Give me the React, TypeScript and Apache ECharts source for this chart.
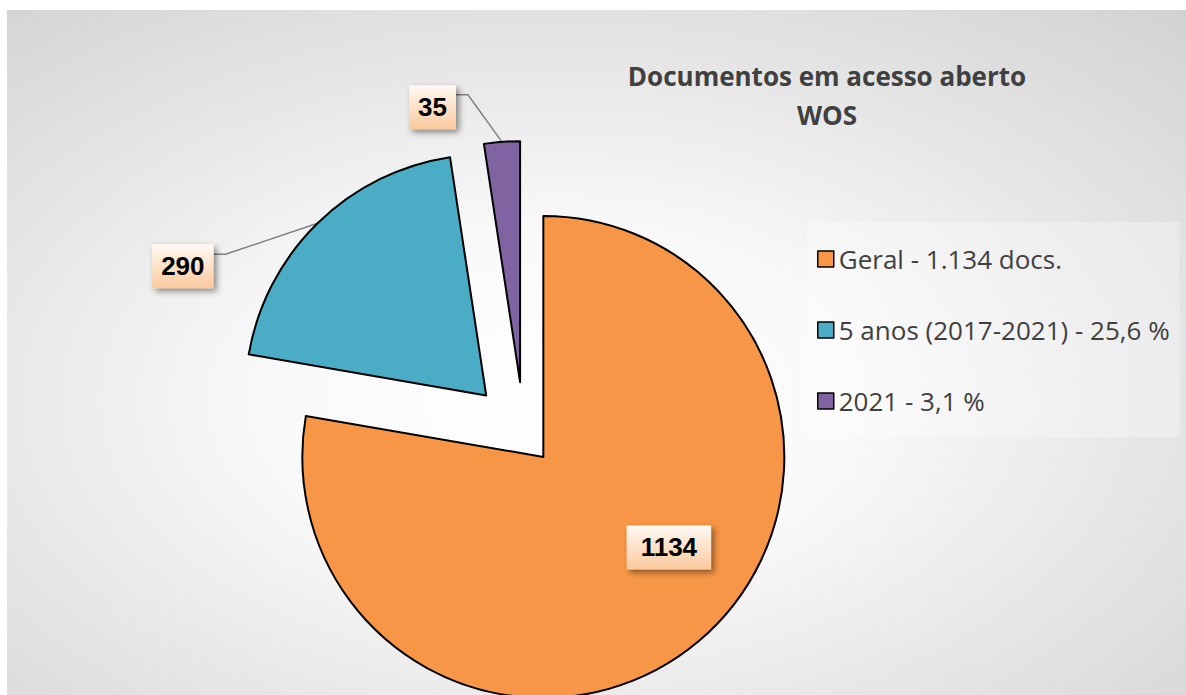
import React, { useEffect, useRef } from 'react';
import * as echarts from 'echarts';

// ---- data ----
const categories = ['Geral - 1.134 docs.', '5 anos (2017-2021) - 25,6 %', '2021 - 3,1 %'];
const values = [1134, 290, 35];
const sliceColors = ['#F79646', '#4BACC6', '#8064A2'];
const explodeOffsets = [30, 54, 52];
const titleLines = ['Documentos em acesso aberto', 'WOS'];

// ---- layout ----
const W = 1186;
const H = 695;
const BASE_CENTER = [524, 434];
const RADIUS = 241;

// label placement relative to the library-computed arc anchor point
const labelGeom: any[] = [
  null,
  { elbow: [-92, 31], end: [-104, 31], boxRight: -104, boxCy: 43 },
  { elbow: [-34, -47], end: [-46, -47], boxRight: -46, boxCy: -34.5 },
];

const labelBg = () =>
  new echarts.graphic.LinearGradient(0, 0, 0, 1, [
    { offset: 0, color: '#fffaf4' },
    { offset: 1, color: '#fbc99d' },
  ]);

function buildOption() {
  const total = values.reduce((a, b) => a + b, 0);
  let acc = 0;
  const series = values.map((v, k) => {
    const start = (acc / total) * 360;
    acc += v;
    const mid = ((start + (v / total) * 180) * Math.PI) / 180;
    const cx = BASE_CENTER[0] + explodeOffsets[k] * Math.sin(mid);
    const cy = BASE_CENTER[1] - explodeOffsets[k] * Math.cos(mid);
    const inside = k === 0;
    const g = labelGeom[k];
    return {
      type: 'pie',
      name: 's' + k,
      center: [cx, cy],
      radius: RADIUS,
      startAngle: 90,
      clockwise: true,
      avoidLabelOverlap: false,
      selectedMode: false,
      emphasis: { disabled: true },
      z: 2,
      data: values.map((val, i) =>
        i === k
          ? {
              value: val,
              name: categories[i],
              itemStyle: { color: sliceColors[i], borderColor: '#000', borderWidth: 2 },
              label: {
                show: true,
                position: inside ? 'inside' : 'outside',
                formatter: '{c}',
                fontFamily: '"Liberation Sans", Arial, sans-serif',
                fontWeight: 'bold',
                fontSize: 26,
                lineHeight: 26,
                color: '#000',
                padding: inside ? [9, 14] : [9, 9],
                backgroundColor: labelBg(),
                shadowColor: 'rgba(0,0,0,0.45)',
                shadowBlur: 6,
                shadowOffsetX: 3,
                shadowOffsetY: 3,
              },
              labelLine: {
                show: !inside,
                length: 20,
                length2: 12,
                lineStyle: { color: '#808080', width: 1.5 },
              },
            }
          : {
              value: val,
              name: categories[i],
              itemStyle: { color: 'rgba(0,0,0,0)', borderWidth: 0 },
              label: { show: false },
              labelLine: { show: false },
            }
      ),
      labelLayout: inside
        ? { dx: 46, dy: -4 }
        : (p: any) => {
            const pts = p.labelLinePoints;
            if (!pts || !pts[0] || !g) return {};
            const p0 = pts[0];
            const r = p.labelRect;
            return {
              dx: p0[0] + g.boxRight - (r.x + r.width),
              dy: p0[1] + g.boxCy - (r.y + r.height / 2),
              labelLinePoints: [
                [p0[0], p0[1]],
                [p0[0] + g.elbow[0], p0[1] + g.elbow[1]],
                [p0[0] + g.end[0], p0[1] + g.end[1]],
              ],
            };
          },
    };
  });

  return {
    animation: false,
    backgroundColor: '#ffffff',
    graphic: [
      {
        type: 'rect',
        z: -100,
        silent: true,
        shape: { x: 7, y: 10, width: W - 7, height: H - 10 },
        style: {
          fill: new echarts.graphic.RadialGradient(0.47, 0.57, 1.0, [
            { offset: 0, color: '#ffffff' },
            { offset: 0.25, color: '#f9f9f9' },
            { offset: 0.5, color: '#e6e6e6' },
            { offset: 0.75, color: '#d4d4d4' },
            { offset: 1, color: '#c0c0c0' },
          ]),
        },
      },
      {
        type: 'text',
        z: 10,
        silent: true,
        x: 827,
        y: 56,
        style: {
          text: titleLines.join('\n'),
          fontFamily: '"Open Sans", sans-serif',
          fontWeight: 'bold',
          fontSize: 26,
          lineHeight: 39,
          fill: '#404040',
          align: 'center',
          verticalAlign: 'top',
        },
      },
    ],
    legend: {
      orient: 'vertical',
      left: 807,
      top: 222,
      padding: [22, 10, 21, 10],
      backgroundColor: 'rgba(255,255,255,0.3)',
      itemGap: 41,
      itemWidth: 16,
      itemHeight: 16,
      icon: 'rect',
      selectedMode: false,
      textStyle: {
        fontFamily: '"Open Sans", sans-serif',
        fontSize: 26,
        lineHeight: 30,
        color: '#404040',
      },
      data: categories.map((c, i) => ({
        name: c,
        itemStyle: { color: sliceColors[i], borderColor: '#000', borderWidth: 1.5 },
      })),
    },
    series,
  };
}

export default function App() {
  const ref = useRef<HTMLDivElement>(null);
  useEffect(() => {
    if (!ref.current) return;
    const chart = echarts.init(ref.current, null, { renderer: 'svg' });
    chart.setOption(buildOption() as any);
    return () => chart.dispose();
  }, []);
  return (
    <div
      ref={ref}
      style={{ position: 'fixed', left: 0, top: 0, width: W, height: H }}
    />
  );
}
